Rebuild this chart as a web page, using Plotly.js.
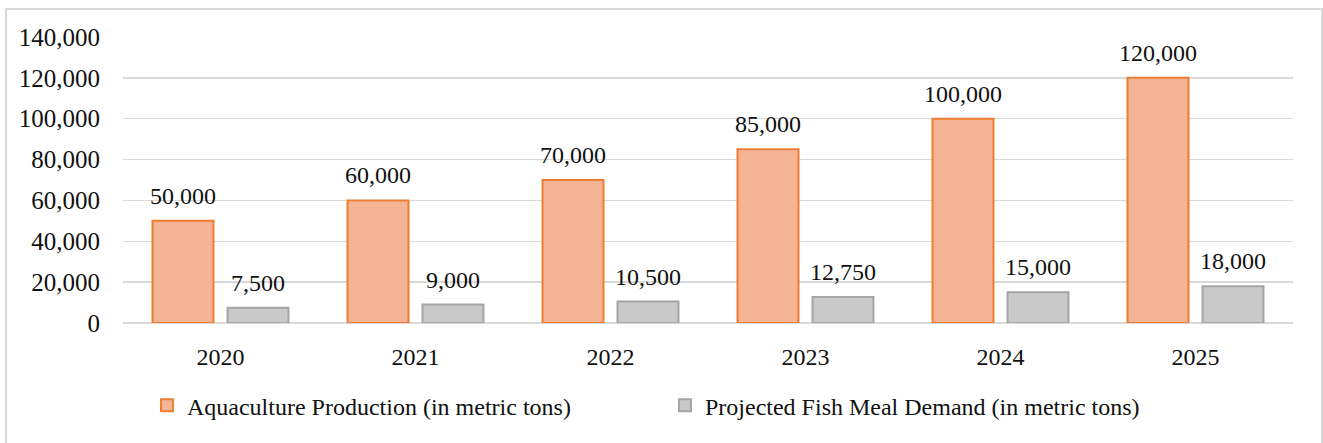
<!DOCTYPE html>
<html>
<head>
<meta charset="utf-8">
<script src="https://cdn.plot.ly/plotly-3.0.1.min.js"></script>
<style>
  html, body { margin: 0; padding: 0; background: #fff; }
  #frame { position: absolute; left: 5px; top: 8px; width: 1318px; height: 445px; border: 2px solid #D9D9D9; border-bottom: none; box-sizing: border-box; }
  #chart { position: absolute; left: 0; top: 0; width: 1323px; height: 443px; }
</style>
</head>
<body>
<div id="frame"></div>
<div id="chart"></div>
<script>
const years = ['2020', '2021', '2022', '2023', '2024', '2025'];
const aquaculture = [50000, 60000, 70000, 85000, 100000, 120000];
const fishMeal = [7500, 9000, 10500, 12750, 15000, 18000];
const seriesNames = ['Aquaculture Production (in metric tons)', 'Projected Fish Meal Demand (in metric tons)'];
const yTicks = [0, 20000, 40000, 60000, 80000, 100000, 120000, 140000];

const FONT = 'Liberation Serif, Times New Roman, serif';
const TXT = '#111111';

const traces = [
  {
    type: 'bar', x: years, y: aquaculture, name: seriesNames[0],
    marker: { color: '#F6B496', line: { color: '#ED7D31', width: 2 } },
    hoverinfo: 'skip'
  },
  {
    type: 'bar', x: years, y: fishMeal, name: seriesNames[1],
    marker: { color: '#C9C9C9', line: { color: '#A5A5A5', width: 2 } },
    hoverinfo: 'skip'
  }
];

// Data labels placed at each bar's value through the axis scales (x = category index)
const slotShift = 37.5; // half of one bar slot within a group (px)
const annotations = [];
const fmt = v => v.toLocaleString('en-US');
years.forEach((yr, i) => {
  annotations.push({ x: i, y: aquaculture[i], xref: 'x', yref: 'y', text: fmt(aquaculture[i]),
    showarrow: false, xanchor: 'center', yanchor: 'bottom', xshift: -slotShift, yshift: 10,
    font: { family: FONT, size: 24, color: TXT } });
  annotations.push({ x: i, y: fishMeal[i], xref: 'x', yref: 'y', text: fmt(fishMeal[i]),
    showarrow: false, xanchor: 'center', yanchor: 'bottom', xshift: slotShift, yshift: 10,
    font: { family: FONT, size: 24, color: TXT } });
});

const layout = {
  width: 1323, height: 443,
  margin: { l: 123, r: 30, t: 37, b: 120 },
  paper_bgcolor: 'rgba(0,0,0,0)', plot_bgcolor: 'rgba(0,0,0,0)',
  font: { family: FONT, size: 24, color: TXT },
  barmode: 'group', bargap: 0.231, bargroupgap: 0.187,
  xaxis: {
    type: 'category', categoryorder: 'array', categoryarray: years,
    range: [-0.5, years.length - 0.5],
    showgrid: false, zeroline: false, showline: false,
    ticks: 'outside', ticklen: 12, tickcolor: 'rgba(0,0,0,0)',
    tickfont: { family: FONT, size: 24, color: TXT }
  },
  yaxis: {
    range: [0, 140000], tickvals: yTicks, tickformat: ',',
    showgrid: true, gridcolor: '#D9D9D9', gridwidth: 1.5,
    zeroline: true, zerolinecolor: '#D9D9D9', zerolinewidth: 1.5,
    showline: false, ticklabelstandoff: 22,
    tickfont: { family: FONT, size: 25, color: TXT }
  },
  annotations: annotations,
  showlegend: true,
  legend: {
    orientation: 'h', x: 0.0205, xanchor: 'left', y: -0.21, yanchor: 'top',
    entrywidth: 473, entrywidthmode: 'pixels',
    font: { family: FONT, size: 24, color: TXT },
    bgcolor: 'rgba(0,0,0,0)'
  }
};

Plotly.newPlot('chart', traces, layout, { displayModeBar: false, staticPlot: true });
</script>
</body>
</html>
